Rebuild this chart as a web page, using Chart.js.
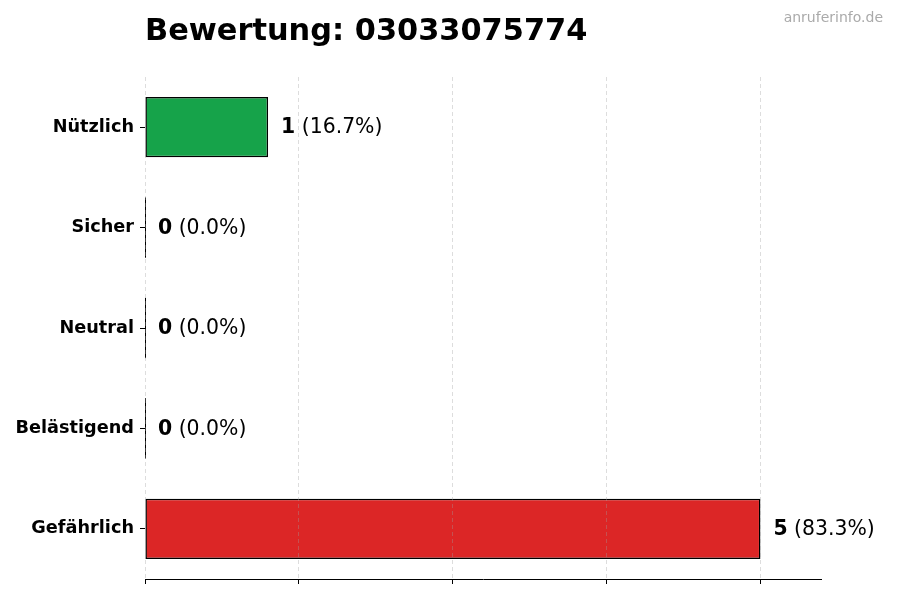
<!DOCTYPE html>
<html>
<head>
<meta charset="utf-8">
<script src="https://cdn.jsdelivr.net/npm/chart.js@4.4.0/dist/chart.umd.min.js"></script>
<style>
  html, body { margin: 0; padding: 0; background: #ffffff; }
  #wrap { width: 900px; height: 600px; }
</style>
</head>
<body>
<div id="wrap"><canvas id="c" width="900" height="600"></canvas></div>
<script>
const titleText = "Bewertung: 03033075774";
const watermark = "anruferinfo.de";
const categories = ["Nützlich", "Sicher", "Neutral", "Belästigend", "Gefährlich"];
const counts = [1, 0, 0, 0, 5];
const barColors = ["#16a34a", "#16a34a", "#6b7280", "#f59e0b", "#dc2626"];
const xTickValues = [0, 1.25, 2.5, 3.75, 5];
const xMax = 5.5;

const total = counts.reduce((a, b) => a + b, 0);
const FONT = "'DejaVu Sans', sans-serif";

const decorPlugin = {
  id: 'decor',
  afterDraw(chart) {
    const ctx = chart.ctx;
    const area = chart.chartArea;
    ctx.save();
    // bottom axis spine
    ctx.strokeStyle = '#000000';
    ctx.lineWidth = 1;
    ctx.setLineDash([]);
    ctx.beginPath();
    ctx.moveTo(area.left, Math.round(area.bottom) + 0.5);
    ctx.lineTo(area.right, Math.round(area.bottom) + 0.5);
    ctx.stroke();
    // title
    ctx.fillStyle = '#000000';
    ctx.font = "bold 30.4px " + FONT;
    ctx.textAlign = 'left';
    ctx.textBaseline = 'alphabetic';
    ctx.fillText(titleText, area.left, 40);
    // watermark
    ctx.fillStyle = '#aaaaaa';
    ctx.font = "14px " + FONT;
    ctx.textAlign = 'right';
    ctx.fillText(watermark, 883, 22);
    ctx.restore();
  },
  afterDatasetsDraw(chart) {
    const ctx = chart.ctx;
    const meta = chart.getDatasetMeta(0);
    ctx.save();
    meta.data.forEach((el, i) => {
      const v = counts[i];
      if (v === 0) {
        const h = el.height;
        ctx.strokeStyle = '#000000';
        ctx.lineWidth = 1;
        ctx.beginPath();
        ctx.moveTo(el.x + 0.5, el.y - h / 2);
        ctx.lineTo(el.x + 0.5, el.y + h / 2);
        ctx.stroke();
      }
      const pct = total ? (v / total * 100).toFixed(1) : "0.0";
      const x0 = el.x + 13;
      ctx.textBaseline = 'middle';
      ctx.textAlign = 'left';
      ctx.fillStyle = '#000000';
      ctx.font = "bold 20.4px " + FONT;
      const s1 = String(v);
      ctx.fillText(s1, x0, el.y + 1);
      const w1 = ctx.measureText(s1).width;
      ctx.font = "20.4px " + FONT;
      ctx.fillText(" (" + pct + "%)", x0 + w1, el.y + 1);
    });
    ctx.restore();
  }
};

new Chart(document.getElementById('c'), {
  type: 'bar',
  data: {
    labels: categories,
    datasets: [{
      data: counts,
      backgroundColor: barColors,
      borderColor: '#000000',
      borderWidth: 1.5,
      borderSkipped: false,
      categoryPercentage: 1.0,
      barPercentage: 0.6
    }]
  },
  options: {
    indexAxis: 'y',
    responsive: false,
    animation: false,
    layout: { padding: { top: 77, right: 78, left: 0, bottom: 0 } },
    plugins: {
      legend: { display: false },
      tooltip: { enabled: false },
      title: { display: false }
    },
    scales: {
      x: {
        type: 'linear',
        min: 0,
        max: xMax,
        afterBuildTicks(scale) {
          scale.ticks = xTickValues.map(v => ({ value: v }));
        },
        afterFit(scale) { scale.height = 21; },
        ticks: { callback: () => '', padding: 0 },
        grid: {
          display: true,
          z: 1,
          drawOnChartArea: true,
          color: 'rgba(160,160,160,0.45)',
          lineWidth: 0.8,
          drawTicks: true,
          tickLength: 5,
          tickColor: '#000000',
          tickWidth: 1,
          tickBorderDash: []
        },
        border: { display: false, dash: [4, 3] }
      },
      y: {
        type: 'category',
        offset: true,
        afterFit(scale) { scale.width = 145; },
        ticks: {
          color: '#000000',
          font: { family: FONT, size: 17.7, weight: 'bold' },
          padding: 6
        },
        grid: {
          display: true,
          offset: false,
          drawOnChartArea: false,
          drawTicks: true,
          tickLength: 5,
          tickColor: '#000000',
          tickWidth: 1
        },
        border: { display: false }
      }
    }
  },
  plugins: [decorPlugin]
});
</script>
</body>
</html>
